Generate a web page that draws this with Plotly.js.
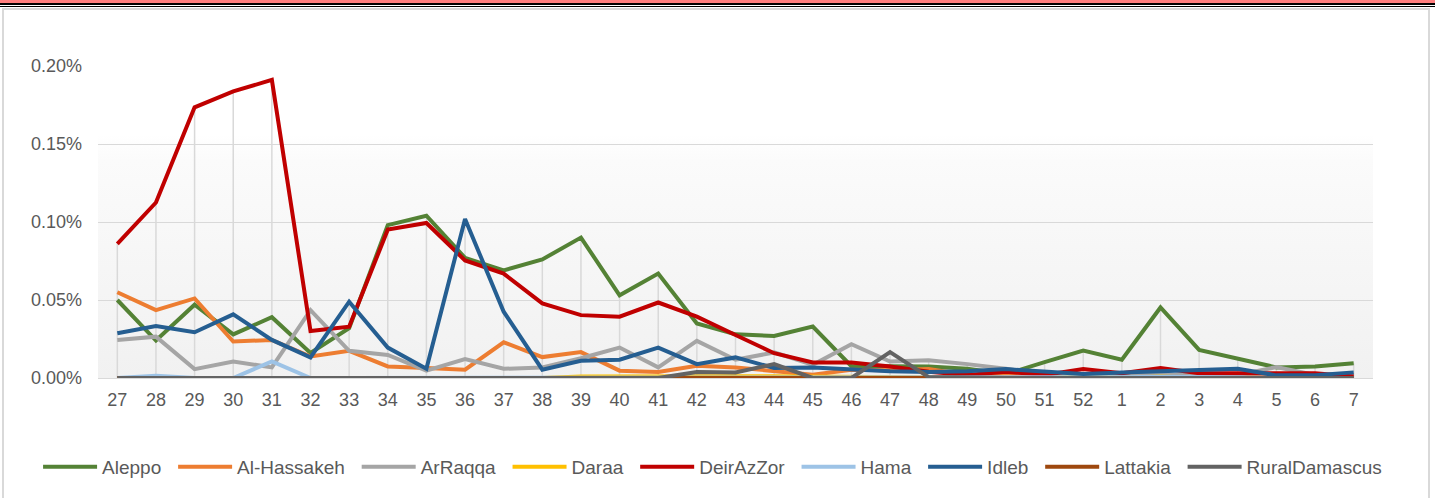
<!DOCTYPE html>
<html>
<head>
<meta charset="utf-8">
<script src="https://cdn.plot.ly/plotly-3.0.1.min.js"></script>
<style>
  html, body { margin: 0; padding: 0; background: #ffffff; }
  #wrap { position: relative; width: 1435px; height: 498px; overflow: hidden; }
  #chart { position: absolute; left: 0; top: 0; width: 1435px; height: 498px; }
  .deco { position: absolute; pointer-events: none; z-index: 5; }
</style>
</head>
<body>
<div id="wrap">
  <div id="chart"></div>
  <div class="deco" style="left:0;top:0;width:1435px;height:3px;background:#ff7f7f;"></div>
  <div class="deco" style="left:0;top:3px;width:1435px;height:2px;background:#000000;"></div>
  <div class="deco" style="left:0;top:6px;width:1435px;height:1px;background:#000000;"></div>
  <div class="deco" style="left:2px;top:8px;width:1428px;height:500px;border:2px solid #d9d9d9;border-bottom:none;box-sizing:border-box;"></div>
</div>
<script>
// Week numbers (categories)
var weeks = ['27','28','29','30','31','32','33','34','35','36','37','38','39','40','41','42','43','44','45','46','47','48','49','50','51','52','1','2','3','4','5','6','7'];

// Values in percent
var aleppo        = [0.050,0.024,0.047,0.028,0.039,0.016,0.032,0.098,0.104,0.077,0.069,0.076,0.090,0.053,0.067,0.035,0.028,0.027,0.033,0.0076,0.0076,0.0074,0.0059,0.0025,0.0102,0.0176,0.0117,0.0452,0.018,0.0123,0.0068,0.0074,0.0094];
var alHassakeh    = [0.055,0.0435,0.051,0.0234,0.0244,0.0138,0.0174,0.0074,0.0064,0.0053,0.0229,0.0134,0.0166,0.0047,0.0038,0.0078,0.0068,0.0043,0.0021,0.0053,0.005,0.0057,0.002,0.0015,0.0015,0.0015,0.0015,0.0015,0.0015,0.0015,0.0015,0.0015,0.0015];
var arRaqqa       = [0.0244,0.0265,0.0057,0.0106,0.0068,0.0435,0.0174,0.0148,0.0047,0.0121,0.0059,0.0068,0.0127,0.0195,0.0068,0.0238,0.0117,0.0164,0.0085,0.0217,0.0106,0.0113,0.0089,0.006,0.002,0.002,0.002,0.002,0.002,0.002,0.007,0.002,0.002];
var daraa         = [0,0,0,0,0,0,0,0,0,0,0,0,0.001,0.0012,0.0012,0.0012,0.0012,0.0012,0.001,0.0005,0,0,0,0,0,0.001,0,0.001,0,0,0,0,0];
var deirAzZor     = [0.086,0.1125,0.1735,0.1837,0.1911,0.0301,0.0329,0.0951,0.0994,0.0754,0.0669,0.0478,0.0403,0.0393,0.0484,0.0393,0.0276,0.0159,0.010,0.010,0.0074,0.004,0.002,0.004,0.002,0.0057,0.003,0.0064,0.003,0.003,0.003,0.003,0.001];
var hama          = [0,0.0015,0,0,0.0106,0,0,0,0,0,0,0,0,0,0,0,0,0,0,0,0,0,0,0,0,0,0.0005,0.0008,0.0005,0,0,0,0];
var idleb         = [0.0287,0.0333,0.0293,0.0408,0.0244,0.0132,0.0489,0.0195,0.0059,0.1019,0.0425,0.0053,0.011,0.0117,0.0195,0.0089,0.0132,0.0064,0.0068,0.0053,0.0043,0.0038,0.0043,0.0057,0.0043,0.0025,0.0036,0.0043,0.0047,0.0059,0.0017,0.0017,0.0036];
var lattakia      = [0,0,0,0,0,0,0,0,0,0,0,0,0,0,0,0,0,0,0,0,0,0,0,0,0,0,0,0,0,0,0,0,0];
var ruralDamascus = [0,0,0,0,0,0,0,0,0,0,0,0,0,0,0,0.0038,0.0036,0.0089,0,0,0.0166,0.0006,0,0,0,0,0,0,0,0,0,0,0];

var seriesNames = ['Aleppo','Al-Hassakeh','ArRaqqa','Daraa','DeirAzZor','Hama','Idleb','Lattakia','RuralDamascus'];
var seriesData  = [aleppo, alHassakeh, arRaqqa, daraa, deirAzZor, hama, idleb, lattakia, ruralDamascus];
var seriesColors = ['#548235','#ed7d31','#a5a5a5','#ffc000','#c00000','#9dc3e6','#255e91','#9e480e','#636363'];

// Y axis ticks (percent)
var yTickVals = [0, 0.05, 0.10, 0.15, 0.20];
var yTickText = yTickVals.map(function (v) { return v.toFixed(2) + '%'; });

// Drop lines: from zero up to the highest value of each week
var dropX = [], dropY = [];
weeks.forEach(function (w, i) {
  var m = Math.max.apply(null, seriesData.map(function (s) { return s[i]; }));
  dropX.push(w, w, null);
  dropY.push(0, m, null);
});

var traces = [{
  x: dropX, y: dropY, mode: 'lines', type: 'scatter',
  line: { color: '#d9d9d9', width: 1.5 },
  hoverinfo: 'skip', showlegend: false
}];
seriesNames.forEach(function (n, k) {
  traces.push({
    x: weeks, y: seriesData[k], name: n + '\u00a0\u200a', type: 'scatter', mode: 'lines',
    line: { color: seriesColors[k], width: 4 }
  });
});

var svg = '<svg xmlns="http://www.w3.org/2000/svg" width="100" height="100" preserveAspectRatio="none">' +
  '<defs><linearGradient id="g" x1="0" y1="0" x2="0" y2="1">' +
  '<stop offset="0" stop-color="#ffffff"/><stop offset="0.22" stop-color="#ffffff"/>' +
  '<stop offset="0.3" stop-color="#fbfbfb"/><stop offset="1" stop-color="#f1f1f1"/></linearGradient></defs>' +
  '<rect width="100" height="100" fill="url(#g)"/></svg>';

var layout = {
  width: 1435, height: 498,
  margin: { l: 98, r: 62, t: 66, b: 118 },
  paper_bgcolor: '#ffffff',
  plot_bgcolor: 'rgba(0,0,0,0)',
  font: { family: 'Liberation Sans, Arial, sans-serif', size: 18, color: '#595959' },
  images: [{
    source: 'data:image/svg+xml;base64,' + btoa(svg),
    xref: 'paper', yref: 'paper', x: 0, y: 1, sizex: 1, sizey: 1,
    xanchor: 'left', yanchor: 'top', sizing: 'stretch', layer: 'below'
  }],
  xaxis: {
    type: 'category', range: [-0.5, 32.5],
    showgrid: false, zeroline: false,
    showline: true, linecolor: '#d9d9d9', linewidth: 1,
    ticks: '', ticklabelstandoff: 5, tickfont: { size: 18, color: '#595959' },
    fixedrange: true
  },
  yaxis: {
    range: [0, 0.2], tickmode: 'array', tickvals: yTickVals, ticktext: yTickText,
    showgrid: true, gridcolor: '#d9d9d9', gridwidth: 1,
    zeroline: false, showline: false, ticks: '', ticklabelstandoff: 15,
    tickfont: { size: 18, color: '#595959' },
    fixedrange: true
  },
  showlegend: true,
  legend: {
    orientation: 'h', x: -0.047, xanchor: 'left', y: -0.285, yanchor: 'middle',
    font: { size: 19, color: '#595959' },
    itemwidth: 54, tracegroupgap: 0, bgcolor: 'rgba(0,0,0,0)',
    itemclick: false, itemdoubleclick: false
  },
  hovermode: false
};

Plotly.newPlot('chart', traces, layout, { displayModeBar: false, staticPlot: true });
</script>
</body>
</html>
